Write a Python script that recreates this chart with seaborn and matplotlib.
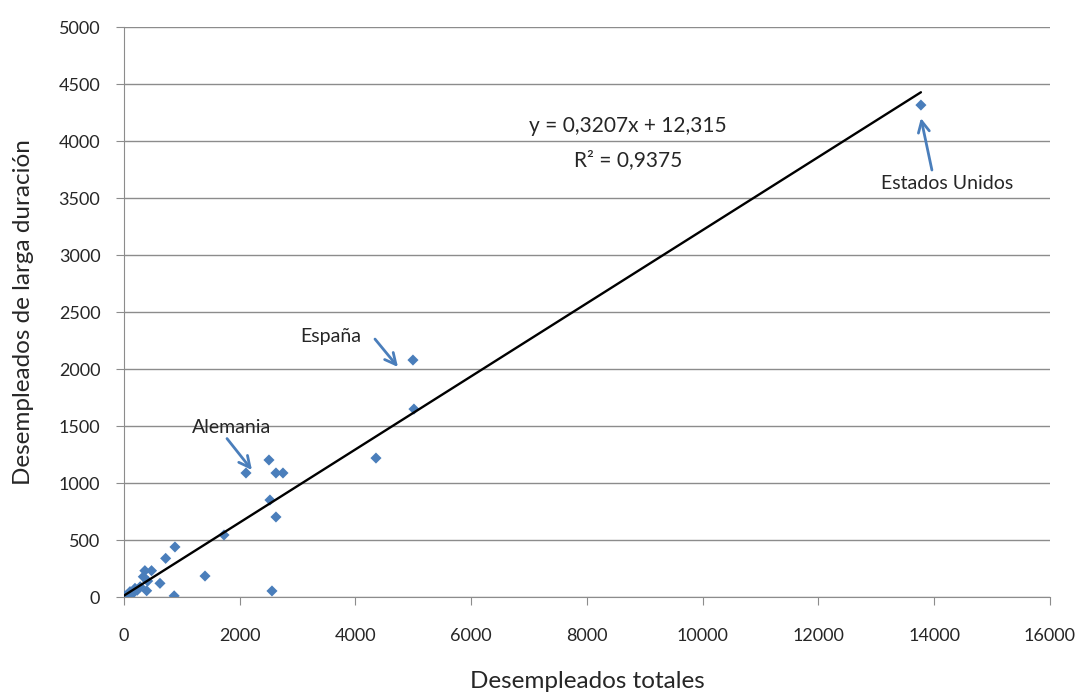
import numpy as np
import pandas as pd
import seaborn as sns
import matplotlib.pyplot as plt

# Desempleados totales vs. desempleados de larga duración (miles)
totales = [13770, 4993, 5010, 4354, 2108, 2505, 2626, 2747, 2522, 2626,
           1728, 1400, 2557, 881, 720, 476, 361, 334, 409, 622,
           392, 867, 190, 104, 15, 60, 130, 230, 280, 50, 170]
larga = [4316, 2079, 1649, 1219, 1088, 1202, 1088, 1088, 851, 702,
         544, 184, 53, 439, 339, 231, 231, 178, 140, 120,
         55, 10, 76, 47, 9, 20, 30, 60, 90, 15, 40]

pendiente = 0.3207
ordenada = 12.315
ecuacion = 'y = 0,3207x + 12,315'
r2 = 'R² = 0,9375'

sns.set_style('white')
plt.rcParams['font.family'] = ['Lato', 'DejaVu Sans']

df = pd.DataFrame({'x': totales, 'y': larga})

fig = plt.figure(figsize=(10.8, 6.95), dpi=100)
ax = fig.add_axes([0.1148, 0.141, 0.8574, 0.820])

ax.yaxis.grid(True, color='#8c8c8c', linewidth=1)
ax.set_axisbelow(True)

sns.scatterplot(data=df, x='x', y='y', marker='D', s=32, color='#4a7ebb',
                edgecolor='none', ax=ax, zorder=3)

# línea de tendencia por encima de los puntos
xs = np.array([0, max(totales)])
ax.plot(xs, pendiente * xs + ordenada, color='black', linewidth=1.7, zorder=4)

ax.set_xlim(0, 16000)
ax.set_ylim(0, 5000)
ax.set_xticks(range(0, 16001, 2000))
ax.set_yticks(range(0, 5001, 500))

for s in ['top', 'right']:
    ax.spines[s].set_visible(False)
for s in ['left', 'bottom']:
    ax.spines[s].set_color('#8c8c8c')
ax.tick_params(axis='both', direction='out', length=6, color='#8c8c8c',
               labelsize=13, bottom=True, left=True)
ax.tick_params(axis='x', pad=16)
ax.tick_params(axis='y', pad=11)

ax.set_xlabel('Desempleados totales', fontsize=17.5, labelpad=20)
ax.set_ylabel('Desempleados de larga duración', fontsize=17.5, labelpad=18)

ax.text(8708, 4132, ecuacion, ha='center', va='center', fontsize=15)
ax.text(8708, 3833, r2, ha='center', va='center', fontsize=15)

flecha = dict(arrowstyle='->,head_length=0.8,head_width=0.4', color='#4a7ebb',
              linewidth=2, shrinkA=0, shrinkB=0)
ax.annotate('', xy=(2211, 1114), xytext=(1780, 1390), arrowprops=flecha)
ax.text(1866, 1491, 'Alemania', ha='center', va='center', fontsize=14)
ax.annotate('', xy=(4734, 2018), xytext=(4337, 2263), arrowprops=flecha)
ax.text(3576, 2289, 'España', ha='center', va='center', fontsize=14)
ax.annotate('', xy=(13770, 4202), xytext=(13960, 3746), arrowprops=flecha)
ax.text(14219, 3632, 'Estados Unidos', ha='center', va='center', fontsize=14)

fig.savefig('out.png', dpi=100)
